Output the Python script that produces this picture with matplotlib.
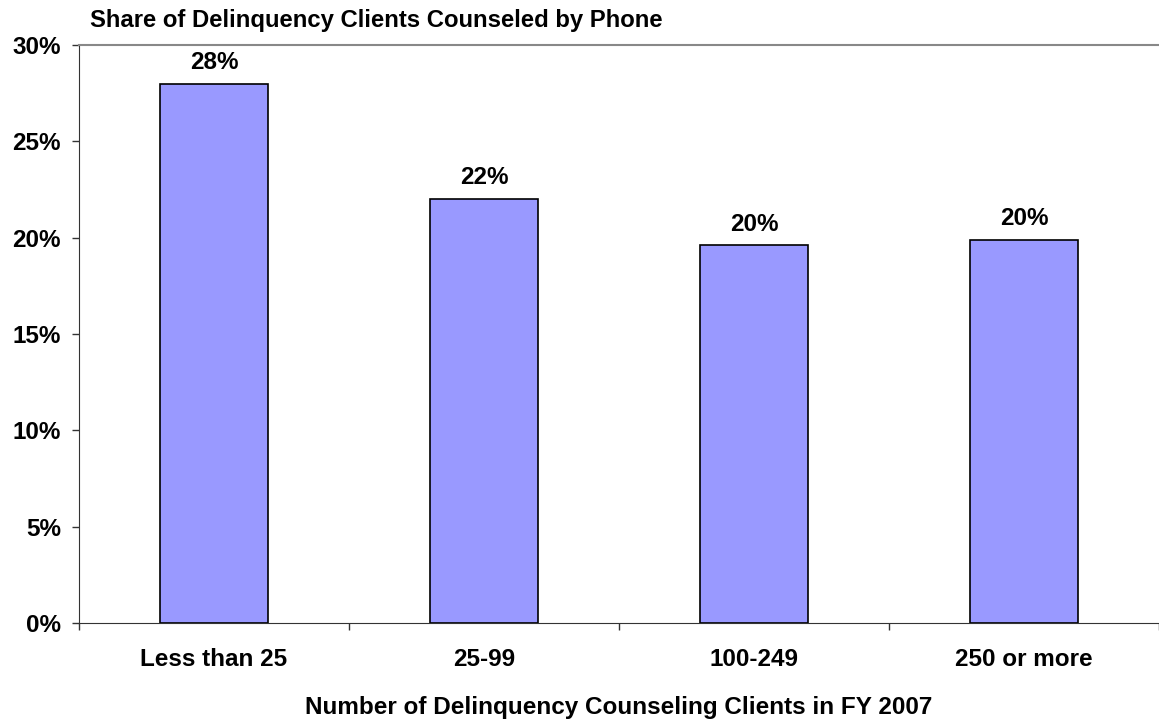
import matplotlib.pyplot as plt
import numpy as np

plt.rcParams['font.family'] = ['Liberation Sans', 'DejaVu Sans']
plt.rcParams['font.weight'] = 'bold'

categories = ["Less than 25", "25-99", "100-249", "250 or more"]
shares = [0.28, 0.22, 0.196, 0.199]
labels = ["28%", "22%", "20%", "20%"]
yticks = [0, 0.05, 0.10, 0.15, 0.20, 0.25, 0.30]

FS = 17.5

fig = plt.figure(figsize=(11.59, 7.21), dpi=100)
ax = fig.add_axes([79/1159, 1 - 623/721, 1 - 79/1159, (623 - 45)/721])

x = np.arange(len(categories))
ax.bar(x, shares, width=0.4, color="#9999ff", edgecolor="black", linewidth=1.2)
for xi, v, lab in zip(x, shares, labels):
    ax.text(xi, v + 0.005, lab, ha="center", va="bottom", fontsize=FS, fontweight="bold")

ax.set_xlim(-0.5, len(categories) - 0.5)
ax.set_ylim(0, 0.30)
ax.set_yticks(yticks)
ax.set_yticklabels([f"{int(round(t*100))}%" for t in yticks], fontsize=FS, fontweight="bold")
ax.set_xticks(x)
ax.set_xticklabels(categories, fontsize=FS, fontweight="bold")
ax.tick_params(axis="x", length=0, pad=18)
ax.set_xticks(np.arange(len(categories) + 1) - 0.5, minor=True)
ax.tick_params(axis="x", which="minor", length=5, width=1, color="#333333")
ax.tick_params(axis="y", length=5, width=1, color="#333333", pad=8)

ax.spines["right"].set_visible(False)
ax.spines["top"].set_color("#888888")
ax.spines["top"].set_linewidth(1.5)
ax.spines["left"].set_color("#333333")
ax.spines["bottom"].set_color("#333333")

ax.set_xlabel("Number of Delinquency Counseling Clients in FY 2007", fontsize=FS,
              fontweight="bold", labelpad=18)
fig.text(90/1159, 1 - 20/721, "Share of Delinquency Clients Counseled by Phone",
         fontsize=17.2, fontweight="bold", ha="left", va="center")

fig.savefig("out.png", dpi=100)
